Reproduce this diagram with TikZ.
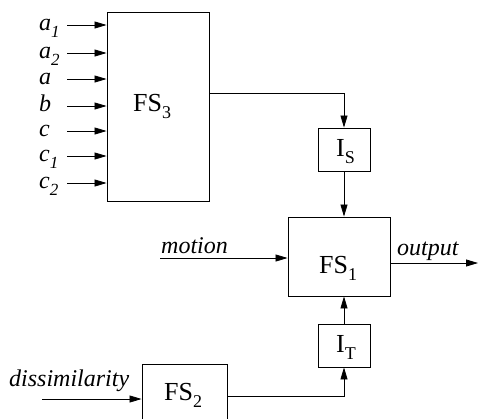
\documentclass[tikz,border=0pt]{standalone}
\usepackage{fontspec}
\setmainfont{Liberation Serif}
\newfontfamily\tms{Liberation Serif}
\usetikzlibrary{arrows.meta}
\newcommand\bsub[1]{\raisebox{-7.5pt}{\fontsize{18}{18}\selectfont #1}}
\newcommand\isub[1]{\raisebox{-7pt}{\fontsize{17}{17}\selectfont\itshape #1}}
\begin{document}
\begin{tikzpicture}[x=1pt,y=-1pt,
  blk/.style={draw, line width=0.9pt, inner sep=0pt},
  txt/.style={inner sep=0pt, anchor=base west, font=\tms\fontsize{26}{30}\selectfont},
  itxt/.style={txt, font=\tms\fontsize{24}{28}\selectfont\itshape},
  conn/.style={line width=0.8pt},
  arr/.style={conn, -{Triangle[length=12pt,width=7pt]}}]
\useasboundingbox (0,0) rectangle (478,418);
% boxes
\node[blk, minimum width=102pt, minimum height=189pt] (fs3) at (158,106.5) {};
\node[blk, minimum width=52pt, minimum height=43pt] (is) at (344,149.5) {};
\node[blk, minimum width=102pt, minimum height=79pt] (fs1) at (339,256.5) {};
\node[blk, minimum width=52pt, minimum height=43pt] (it) at (344,345.5) {};
\node[blk, minimum width=85pt, minimum height=70pt] (fs2) at (184.5,399) {};
% box texts
\node[txt] (fs3t) at (133,111) {FS\bsub{3}};
\node[txt] (ist) at (336,156) {I\bsub{S}};
\node[txt] (fs1t) at (319,273) {FS\bsub{1}};
\node[txt] (itt) at (336,352) {I\bsub{T}};
\node[txt] (fs2t) at (164,400) {FS\bsub{2}};
% FS3 inputs
\foreach \n/\y/\lab in {a1/25/{a\isub{1}}, a2/53/{a\isub{2}}, a/79/a, b/106/b, c/131/c, c1/156/{c\isub{1}}, c2/183/{c\isub{2}}}{
  \node[itxt] (l\n) at (39,\y+5.5) {\lab};
  \coordinate (s\n) at (67,\y);
  \draw[arr] (s\n) -- (s\n -| fs3.west);
}
% labels
\node[itxt] (motl) at (161,253) {motion};
\node[itxt] (outl) at (397,255) {output};
\node[itxt] (disl) at (9,386) {dissimilarity};
\coordinate (ms) at (160,258);
\coordinate (oe) at (478,263);
\coordinate (ds) at (42,399);
\coordinate (f3o) at (209,93);
\coordinate (f2o) at (227,396);
% connectors
\draw[arr] (f3o) -| (is.north);
\draw[arr] (is.south) -- (is.south |- fs1.north);
\draw[arr] (ms) -- (ms -| fs1.west);
\draw[arr] (fs1.east |- oe) -- (oe);
\draw[arr] (it.north) -- (it.north |- fs1.south);
\draw[arr] (f2o) -| (it.south);
\draw[arr] (ds) -- (ds -| fs2.west);
\end{tikzpicture}
\end{document}
